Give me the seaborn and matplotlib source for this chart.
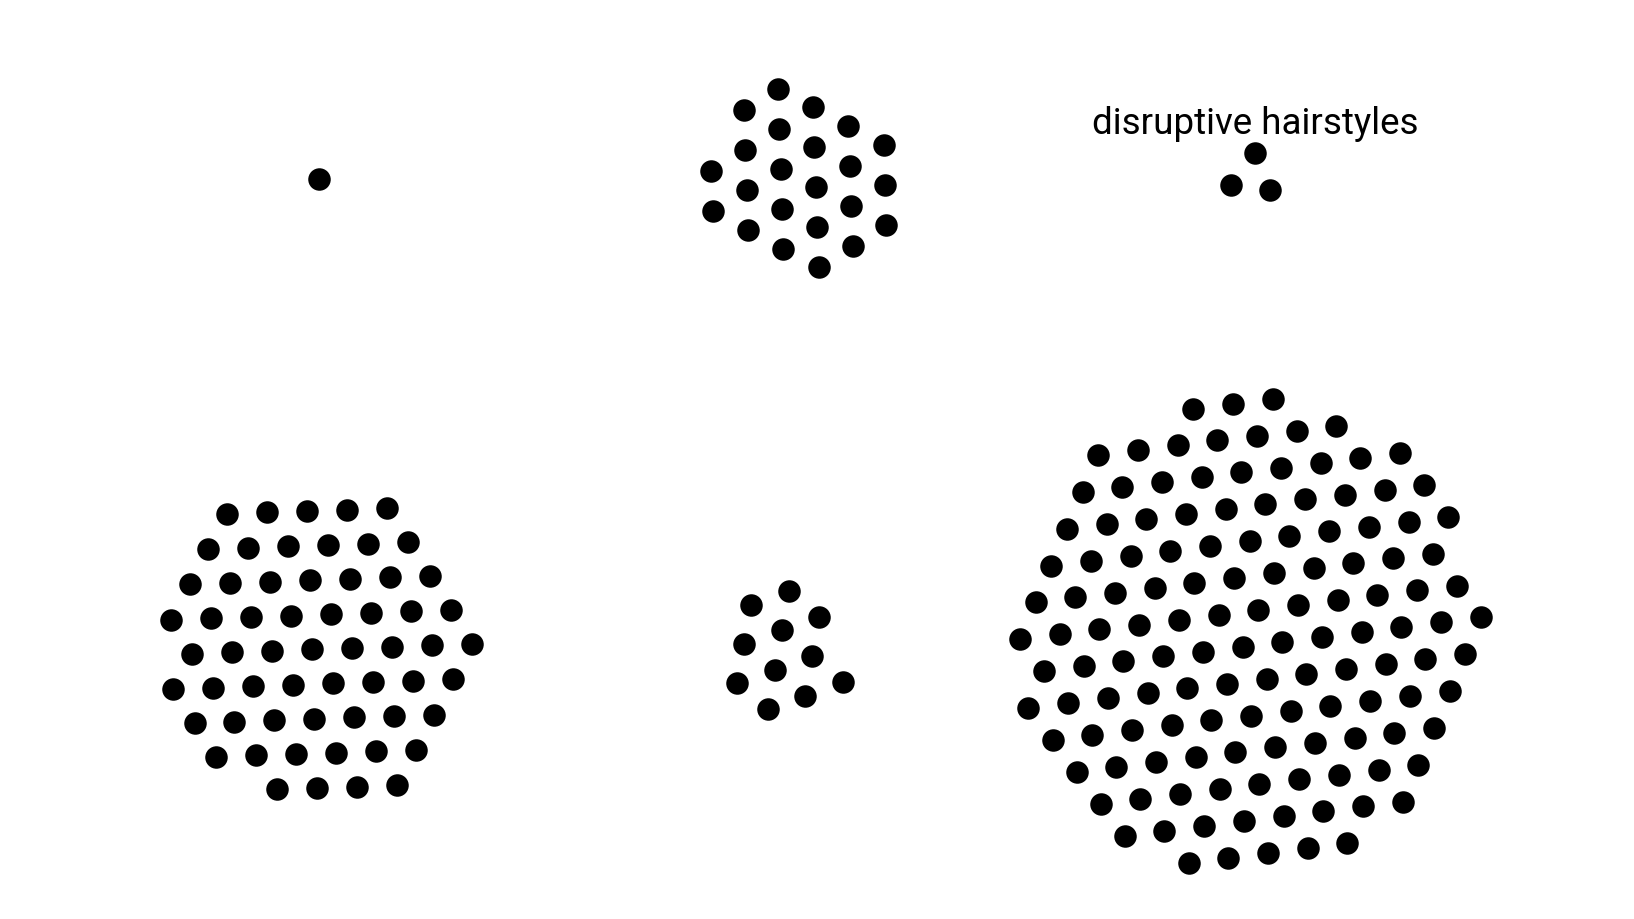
#!/usr/bin/env python3
"""
Dot clusters: one dot per item, packed into a blob per group.
"""
import matplotlib
matplotlib.use("Agg")
import matplotlib.pyplot as plt
import numpy as np
import pandas as pd
import seaborn as sns

# Data: item counts per group (only one group is labelled in the chart)
groups = ["group a", "group b", "disruptive hairstyles", "group d", "group e", "group f"]
counts = [1, 23, 3, 59, 11, 130]
shown_labels = ["", "", "disruptive hairstyles", "", "", ""]

# Layout (pixel space of the 1634x920 canvas)
W, H = 1634, 920
centers = [(319, 180), (802, 181), (1252, 177), (316, 648), (784, 654), (1248, 635)]
angles = [0, 92, -8, 2, 20, 7]      # lattice rotation per cluster, degrees
SPACING = 40.0                       # centre-to-centre distance of neighbour dots
DOT_PX = 22.5


def pack(n, angle, spacing=SPACING):
    """Take the n hex-lattice points closest to the origin, rotated by angle."""
    if n == 1:
        return np.zeros((1, 2))
    k = int(np.ceil(np.sqrt(n))) + 3
    pts = []
    for i in range(-k, k + 1):
        for j in range(-k, k + 1):
            pts.append((i + 0.5 * j, j * np.sqrt(3) / 2))
    pts = np.array(pts) * spacing
    # small offset so ties break the same way each run
    off = np.array([0.13, 0.21]) * spacing
    d = np.hypot(*(pts - off).T)
    sel = pts[np.argsort(d, kind="stable")[:n]]
    sel = sel - sel.mean(axis=0)
    t = np.deg2rad(angle)
    rot = np.array([[np.cos(t), -np.sin(t)], [np.sin(t), np.cos(t)]])
    return sel @ rot.T


rows = []
for g, n, (cx, cy), a in zip(groups, counts, centers, angles):
    xy = pack(n, a)
    for x, y in xy:
        rows.append({"group": g, "x": cx + x, "y": cy - y})
df = pd.DataFrame(rows)

sns.set_theme(style="white")
fig = plt.figure(figsize=(W / 100, H / 100), dpi=100)
ax = fig.add_axes([0, 0, 1, 1])

size_pt = DOT_PX * 72 / 100
sns.scatterplot(data=df, x="x", y="y", color="black", s=size_pt ** 2,
                linewidth=0, legend=False, ax=ax)

for lab, (cx, cy) in zip(shown_labels, centers):
    if lab:
        ax.text(cx + 3, cy - 53, lab, ha="center", va="center",
                fontsize=26.5, family=["Roboto", "DejaVu Sans"], color="black")

ax.set_xlim(0, W)
ax.set_ylim(H, 0)
ax.set_axis_off()

fig.savefig("out.png", dpi=100, facecolor="white")
plt.close(fig)
